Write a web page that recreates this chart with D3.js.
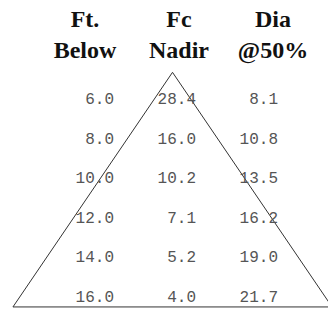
<!DOCTYPE html>
<html>
<head>
<meta charset="utf-8">
<script src="https://cdn.jsdelivr.net/npm/d3@7"></script>
<style>
	body { margin: 0; background: #fff; }
</style>
</head>
<body>
<script>
(function() {

	var width = 328;
	var height = 309;

	// table data
	var columns = ['Ft. Below', 'Fc Nadir', 'Dia @50%'];
	var headerTop = ['Ft.', 'Fc', 'Dia'];
	var headerBottom = ['Below', 'Nadir', '@50%'];
	var ftBelow = [6.0, 8.0, 10.0, 12.0, 14.0, 16.0];
	var fcNadir = [28.4, 16.0, 10.2, 7.1, 5.2, 4.0];
	var diaHalf = [8.1, 10.8, 13.5, 16.2, 19.0, 21.7];

	// cone outline, in feet below (apex, base)
	var coneDepth = [4.4, 16.25];

	var svg = d3.select('body')
		.append('svg')
			.attr('width', width)
			.attr('height', height);

	var y = d3.scaleLinear()
		.domain([6, 16])
		.range([104, 302]);

	var x = d3.scalePoint()
		.domain(columns)
		.range([114, 278]);

	var headX = d3.scalePoint()
		.domain(columns)
		.range([85, 273]);

	// the cone
	var apexX = 172.5;
	var slope = 0.68;
	var yA = y(coneDepth[0]), yB = y(coneDepth[1]);
	var pts = [
		[apexX - slope * (yB - yA), yB],
		[apexX, yA],
		[apexX + slope * (yB - yA), yB]
	];

	svg.append('path')
		.attr('d', d3.line()(pts) + 'Z')
		.style('fill', 'none')
		.style('stroke', '#333')
		.style('stroke-width', 1);

	// headers
	var head = svg.selectAll('g.head')
		.data(columns)
		.enter()
		.append('g')
			.attr('class', 'head');

	head.append('text')
		.attr('x', function(d) { return headX(d); })
		.attr('y', 27)
		.text(function(d, i) { return headerTop[i]; });

	head.append('text')
		.attr('x', function(d) { return headX(d); })
		.attr('y', 58)
		.text(function(d, i) { return headerBottom[i]; });

	head.selectAll('text')
		.attr('text-anchor', 'middle')
		.style('font-family', '"Liberation Serif", "Times New Roman", serif')
		.style('font-weight', 'bold')
		.style('font-size', '24px')
		.style('fill', '#111');

	// rows
	var series = [ftBelow, fcNadir, diaHalf];

	for(c=0; c<columns.length; c++) {

		svg.selectAll('text.c' + c)
			.data(series[c])
			.enter()
			.append('text')
				.attr('class', 'c' + c)
				.attr('x', x(columns[c]))
				.attr('y', function(d, i) { return y(ftBelow[i]); })
				.attr('text-anchor', 'end')
				.text(function(d) { return d.toFixed(1); });

	}

	svg.selectAll('text.c0, text.c1, text.c2')
		.style('font-family', '"Liberation Mono", "Courier New", monospace')
		.style('font-size', '16px')
		.style('fill', '#555');

})();
</script>
</body>
</html>
